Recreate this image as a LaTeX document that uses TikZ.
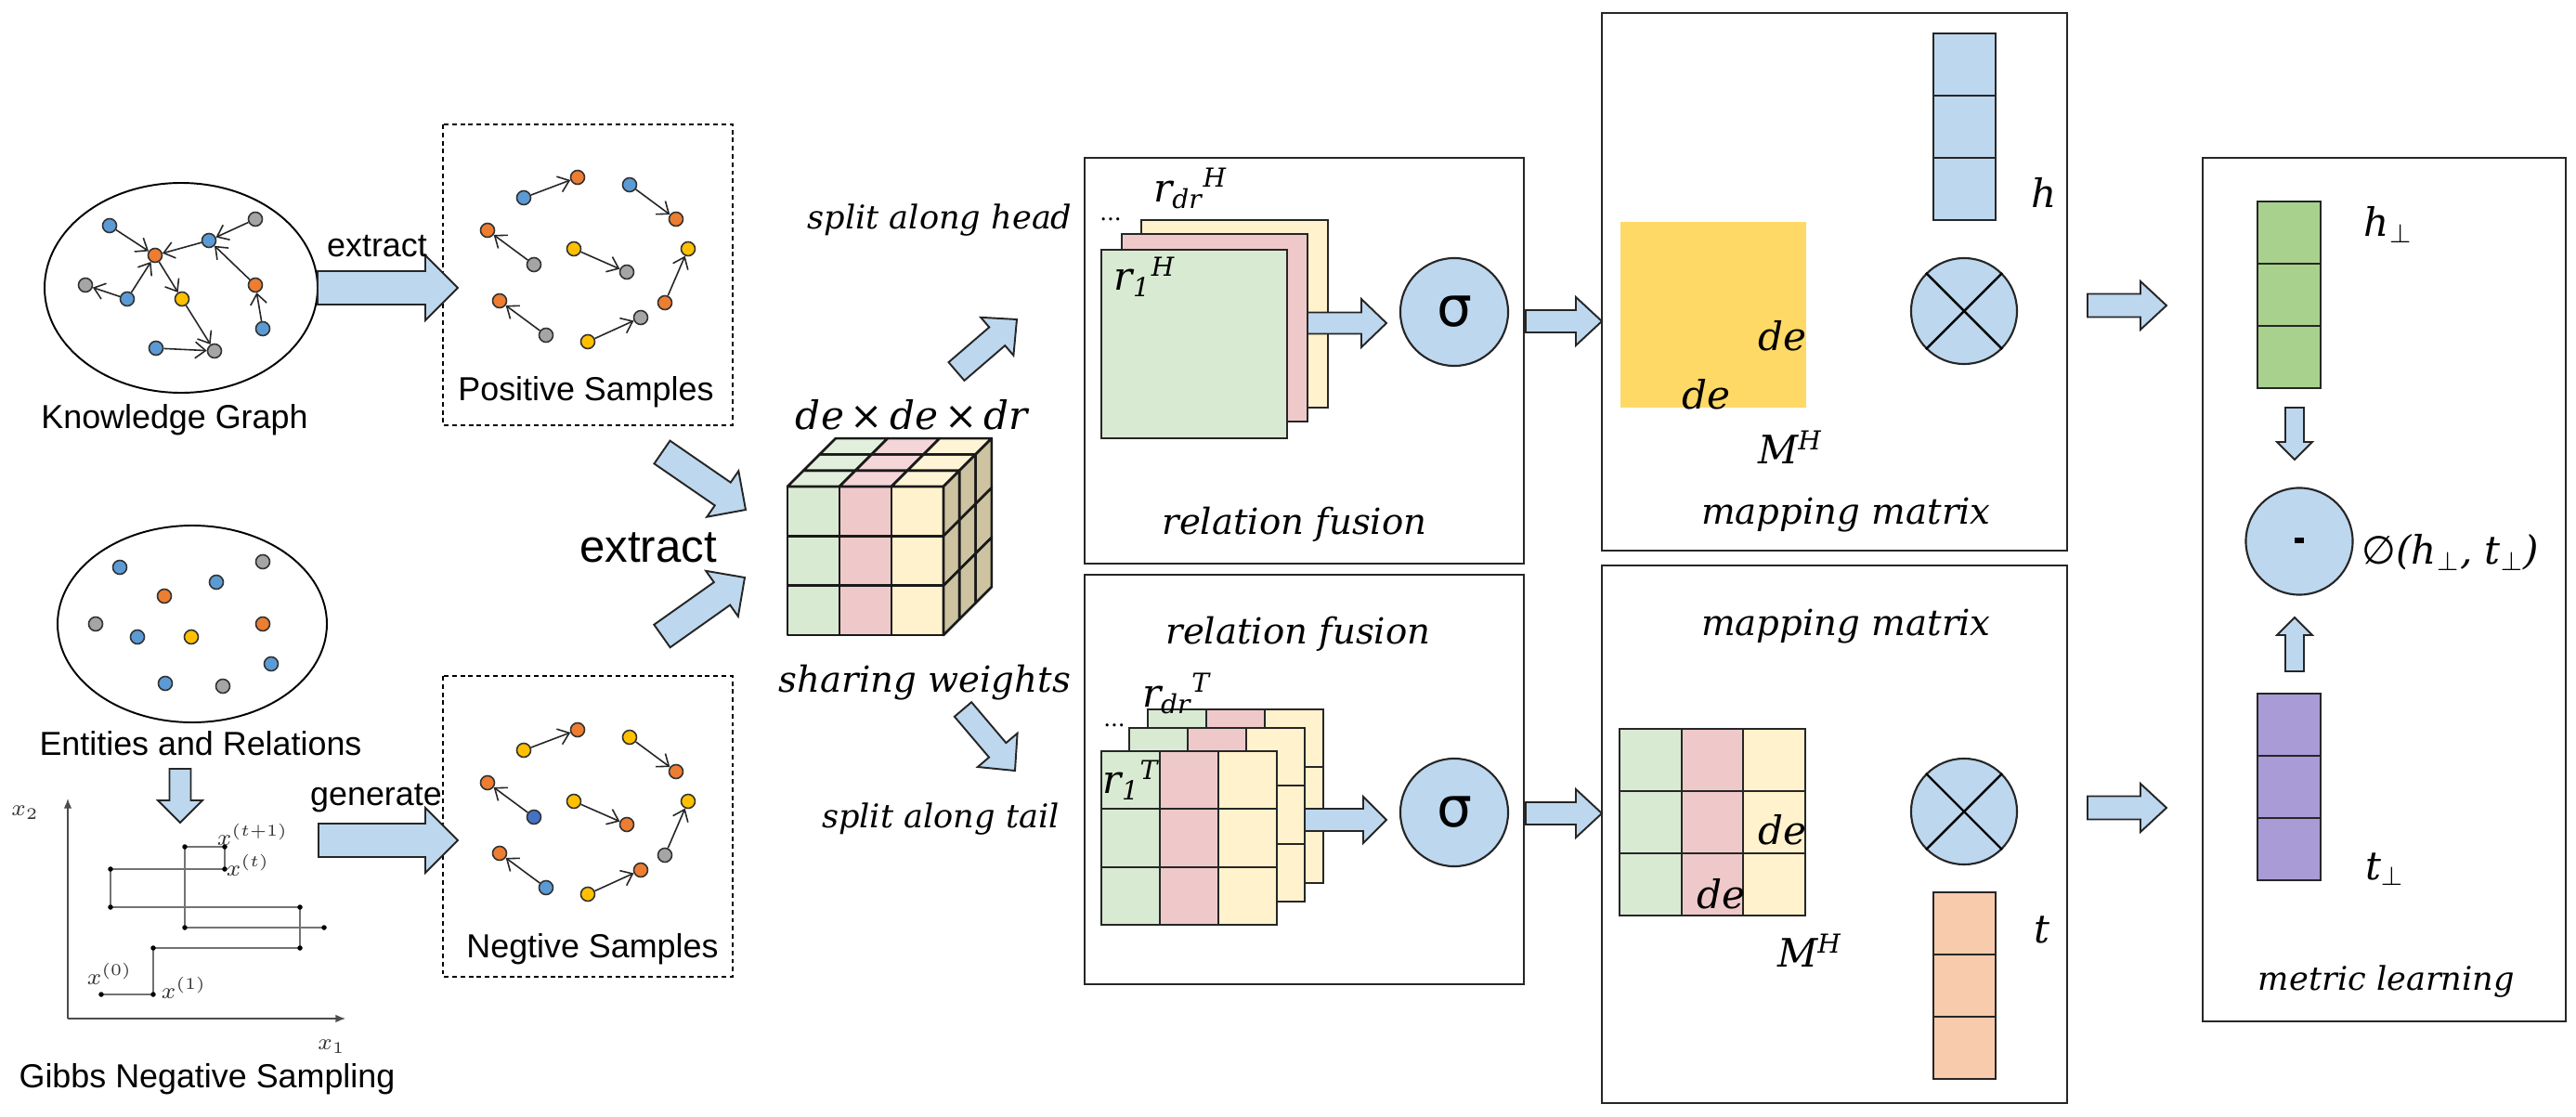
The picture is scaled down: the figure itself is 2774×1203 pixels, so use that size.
\documentclass[tikz,border=0pt]{standalone}
\usepackage{fontspec}
\usepackage{amsmath}
\usetikzlibrary{arrows.meta,calc}
\newfontfamily\sansf{Liberation Sans}
\newfontfamily\seriff{DejaVu Serif}
\newfontfamily\symf{DejaVu Sans}
\definecolor{cB}{HTML}{5B9BD5}
\definecolor{cD}{HTML}{4472C4}
\definecolor{cO}{HTML}{ED7D31}
\definecolor{cG}{HTML}{A5A5A5}
\definecolor{cY}{HTML}{FFC000}
\definecolor{arrfill}{HTML}{BDD7EE}
\definecolor{cgreen}{HTML}{D9EAD3}
\definecolor{cpink}{HTML}{EFC9C9}
\definecolor{cyel}{HTML}{FFF2CC}
\definecolor{cgreenT}{HTML}{E2EFDC}
\definecolor{cpinkT}{HTML}{F5D6D8}
\definecolor{cyelT}{HTML}{FFF4D6}
\definecolor{ctan}{HTML}{CDC3A1}
\definecolor{cgold}{HTML}{FFD966}
\definecolor{cpeach}{HTML}{F8CBAD}
\definecolor{cvgreen}{HTML}{A9D18E}
\definecolor{cpurple}{HTML}{A89BD6}
\tikzset{
  dot/.style={circle, draw=black!80, line width=0.45pt, minimum size=0.15cm, inner sep=0pt},
  kb/.style={dot, fill=cB}, ko/.style={dot, fill=cO}, kg/.style={dot, fill=cG},
  ky/.style={dot, fill=cY}, kd/.style={dot, fill=cD},
  edge/.style={-{Straight Barb[length=3.2pt,width=5pt]}, line width=0.45pt, black!85},
  fatarr/.style={fill=arrfill, draw=black!85, line width=0.55pt, line join=miter},
  panel/.style={draw=black!85, line width=0.7pt},
  dbox/.style={draw=black, line width=0.5pt, dash pattern=on 1.4pt off 1.1pt},
  cell/.style={draw=black!85, line width=0.55pt},
  cubel/.style={draw=black!90, line width=0.75pt, line join=round},
  ell/.style={draw=black, line width=0.55pt},
  sanslbl/.style={font=\sansf\fontsize{10.2}{12}\selectfont, inner sep=0pt},
  bigsans/.style={font=\sansf\fontsize{14}{16}\selectfont, inner sep=0pt},
  itlbl/.style={font=\seriff\itshape\fontsize{11}{13}\selectfont, inner sep=0pt},
  itsmall/.style={font=\seriff\itshape\fontsize{10}{12}\selectfont, inner sep=0pt},
  mlbl/.style={font=\seriff\itshape\fontsize{12}{14}\selectfont, inner sep=0pt},
  sig/.style={circle, draw=black!85, line width=0.6pt, fill=arrfill, minimum size=1.16cm, inner sep=0pt, font=\symf\fontsize{17}{17}\selectfont},
  otc/.style={circle, draw=black!85, line width=0.6pt, fill=arrfill, minimum size=1.14cm, inner sep=0pt},
  gline/.style={draw=black!55, line width=0.35pt},
  gpt/.style={circle, fill=black, minimum size=0.055cm, inner sep=0pt},
  glbl/.style={font=\fontsize{7.5}{8}\selectfont, inner sep=0pt, text=black!80},
}
\newcommand\fatarrow[6]{%
  \coordinate (#1t) at #2;
  \coordinate (#1p) at #3;
  \coordinate (#1h) at ($(#1p)!#6!(#1t)$);
  \draw[fatarr] ($(#1t)!#4!90:(#1p)$) -- ($(#1h)!#4!90:(#1p)$) -- ($(#1h)!#5!90:(#1p)$) -- (#1p) -- ($(#1h)!#5!-90:(#1p)$) -- ($(#1h)!#4!-90:(#1p)$) -- ($(#1t)!#4!-90:(#1p)$) -- cycle;}
\begin{document}
\begin{tikzpicture}[x=0.01cm,y=-0.01cm]
\useasboundingbox (0,0) rectangle (2774,1203);
\fill[white] (0,0) rectangle (2774,1203);

% ---------------- Knowledge graph
\draw[ell] (195,310) ellipse [x radius=147, y radius=113];
\node[kb] (k1) at (118,243) {};
\node[kg] (k2) at (275,236) {};
\node[kb] (k3) at (225,259) {};
\node[ko] (k4) at (167,275) {};
\node[kg] (k5) at (92,307) {};
\node[kb] (k6) at (137,322) {};
\node[ky] (k7) at (196,322) {};
\node[ko] (k8) at (275,307) {};
\node[kb] (k9) at (283,354) {};
\node[kb] (k10) at (168,375) {};
\node[kg] (k11) at (231,378) {};
\draw[edge] (k1) -- (k4);
\draw[edge] (k2) -- (k3);
\draw[edge] (k3) -- (k4);
\draw[edge] (k6) -- (k4);
\draw[edge] (k6) -- (k5);
\draw[edge] (k4) -- (k7);
\draw[edge] (k7) -- (k11);
\draw[edge] (k8) -- (k3);
\draw[edge] (k9) -- (k8);
\draw[edge] (k10) -- (k11);
\node[sanslbl] (kgl) at (188,452) {Knowledge Graph};

% ---------------- Positive samples
\draw[dbox] (477,134) rectangle (789,458);
\node[kb] (p1) at (564,213) {};
\node[ko] (p2) at (622,191) {};
\node[kb] (p3) at (678,199) {};
\node[ko] (p4) at (728,236) {};
\node[ko] (p5) at (525,248) {};
\node[kg] (p6) at (575,285) {};
\node[ky] (p7) at (618,268) {};
\node[kg] (p8) at (675,293) {};
\node[ky] (p9) at (741,268) {};
\node[ko] (p10) at (716,326) {};
\node[ko] (p11) at (538,324) {};
\node[kg] (p12) at (588,361) {};
\node[ky] (p13) at (633,368) {};
\node[kg] (p14) at (690,342) {};
\draw[edge] (p1) -- (p2);
\draw[edge] (p3) -- (p4);
\draw[edge] (p6) -- (p5);
\draw[edge] (p7) -- (p8);
\draw[edge] (p10) -- (p9);
\draw[edge] (p12) -- (p11);
\draw[edge] (p13) -- (p14);
\node[sanslbl] (psl) at (631,422) {Positive Samples};

% ---------------- Negative samples
\draw[dbox] (477,728) rectangle (789,1052);
\node[ky] (n1) at (564,808) {};
\node[ko] (n2) at (622,786) {};
\node[ky] (n3) at (678,794) {};
\node[ko] (n4) at (728,831) {};
\node[ko] (n5) at (525,843) {};
\node[kd] (n6) at (575,880) {};
\node[ky] (n7) at (618,863) {};
\node[ko] (n8) at (675,888) {};
\node[ky] (n9) at (741,863) {};
\node[kg] (n10) at (716,921) {};
\node[ko] (n11) at (538,919) {};
\node[kb] (n12) at (588,956) {};
\node[ky] (n13) at (633,963) {};
\node[ko] (n14) at (690,937) {};
\draw[edge] (n1) -- (n2);
\draw[edge] (n3) -- (n4);
\draw[edge] (n6) -- (n5);
\draw[edge] (n7) -- (n8);
\draw[edge] (n10) -- (n9);
\draw[edge] (n12) -- (n11);
\draw[edge] (n13) -- (n14);
\node[sanslbl] (nsl) at (638,1022) {Negtive Samples};

% ---------------- Entities and relations
\draw[ell] (207,672) ellipse [x radius=145, y radius=106];
\node[kb] (e1) at (129,611) {};
\node[kg] (e2) at (283,605) {};
\node[kb] (e3) at (233,627) {};
\node[ko] (e4) at (177,642) {};
\node[kg] (e5) at (103,672) {};
\node[ko] (e6) at (283,672) {};
\node[kb] (e7) at (148,686) {};
\node[ky] (e8) at (206,686) {};
\node[kb] (e9) at (292,715) {};
\node[kb] (e10) at (178,736) {};
\node[kg] (e11) at (240,739) {};
\node[sanslbl] (erl) at (216,801) {Entities and Relations};

% ---------------- Gibbs sampling plot
\draw[draw=black!70, line width=0.4pt, -{Latex[length=3pt,width=2.4pt]}] (73,1097) -- (73,860);
\draw[draw=black!70, line width=0.4pt, -{Latex[length=3pt,width=2.4pt]}] (73,1097) -- (372,1097);
\coordinate (g0) at (109,1071);
\coordinate (g1) at (165,1071);
\coordinate (g2) at (165,1021);
\coordinate (g3) at (323,1021);
\coordinate (g4) at (323,977);
\coordinate (g5) at (119,977);
\coordinate (g6) at (119,936);
\coordinate (g7) at (242,936);
\coordinate (g8) at (242,912);
\coordinate (g9) at (199,912);
\coordinate (g10) at (199,999);
\coordinate (g11) at (349,999);
\draw[gline] (g0) -- (g1) -- (g2) -- (g3) -- (g4) -- (g5) -- (g6) -- (g7) -- (g8) -- (g9) -- (g10) -- (g11);
\foreach \g in {g0,g1,g2,g3,g4,g5,g6,g7,g8,g9,g10,g11} \node[gpt] at (\g) {};
\node[glbl] (lx2) at (27,875) {$x_2$};
\node[glbl] (lx1) at (357,1127) {$x_1$};
\node[glbl] (lx0) at (118,1049) {$x^{(0)}$};
\node[glbl] (lxa) at (198,1064) {$x^{(1)}$};
\node[glbl] (lxt) at (267,932) {$x^{(t)}$};
\node[glbl] (lxt1) at (272,899) {$x^{(t+1)}$};
\node[sanslbl] (gns) at (223,1162) {Gibbs Negative Sampling};

% ---------------- left fat arrows and labels
\fatarrow{a1}{(342,310)}{(493,310)}{0.18cm}{0.35cm}{0.35cm}
\node[sanslbl] (ext1) at (406,265) {extract};
\fatarrow{a2}{(343,905)}{(493,905)}{0.18cm}{0.35cm}{0.35cm}
\node[sanslbl] (gen) at (405,860) {generate};
\fatarrow{a3}{(194,828)}{(194,886)}{0.115cm}{0.24cm}{0.24cm}
\fatarrow{a4}{(713,487)}{(803,549)}{0.15cm}{0.30cm}{0.30cm}
\fatarrow{a5}{(713,685)}{(802,622)}{0.15cm}{0.30cm}{0.30cm}
\node[bigsans] (ext2) at (698,590) {extract};

% ---------------- Cube
\def\cx{848}\def\cy{524}\def\cw{56}\def\ch{53.33}\def\dx{17.3}\def\dy{-17.3}
\foreach \c/\col in {0/cgreen,1/cpink,2/cyel} \foreach \r in {0,1,2}
  \draw[cubel, fill=\col] ({\cx+\c*\cw},{\cy+\r*\ch}) rectangle ++(\cw,\ch);
\foreach \c/\col in {0/cgreenT,1/cpinkT,2/cyelT} \foreach \k in {0,1,2}
  \draw[cubel, fill=\col] ({\cx+\c*\cw+\k*\dx},{\cy+\k*\dy}) -- ++(\cw,0) -- ++(\dx,\dy) -- ++(-\cw,0) -- cycle;
\foreach \r in {0,1,2} \foreach \k in {0,1,2}
  \draw[cubel, fill=ctan] ({\cx+3*\cw+\k*\dx},{\cy+\r*\ch+\k*\dy}) -- ++(\dx,\dy) -- ++(0,\ch) -- ++(-\dx,-\dy) -- cycle;
\node[mlbl] (dims) at (982,447) {de\,×\,de\,×\,dr};
\node[itlbl] (sw) at (996,735) {sharing weights};
\node[itsmall] (sah) at (1012,237) {split along head};
\node[itsmall] (sat) at (1013,882) {split along tail};
\fatarrow{a6}{(1030,400)}{(1095,344)}{0.13cm}{0.27cm}{0.28cm}
\fatarrow{a7}{(1037,764)}{(1093,830)}{0.12cm}{0.28cm}{0.29cm}

% ---------------- Relation fusion (head)
\draw[panel] (1168,170) rectangle (1641,607);
\draw[cell, fill=cyel] (1229,237) rectangle (1430,439);
\draw[cell, fill=cpink] (1208,252) rectangle (1408,454);
\draw[cell, fill=cgreen] (1186,269) rectangle (1386,472);
\node[font=\seriff\fontsize{7}{8}\selectfont, inner sep=0pt] (dd1) at (1196,236) {...};
\node[mlbl] (rdrh) at (1282,203) {r$_{\text{dr}}{}^{\text{H}}$};
\node[mlbl] (r1h) at (1233,298) {r$_{\text{1}}{}^{\text{H}}$};
\fatarrow{a8}{(1408,348)}{(1493,348)}{0.115cm}{0.26cm}{0.27cm}
\node[sig] (s1) at (1566,336) {σ};
\node[itlbl] (rf1) at (1394,565) {relation fusion};

% ---------------- Relation fusion (tail)
\draw[panel] (1168,619) rectangle (1641,1060);
\node[itlbl] (rf2) at (1398,683) {relation fusion};
\foreach \ox/\oy in {50/-45, 30/-25, 0/0} {
  \foreach \c/\col in {0/cgreen,1/cpink,2/cyel} \foreach \r in {0,1,2}
    \draw[cell, fill=\col] ({1186+\ox+\c*63},{809+\oy+\r*62.33}) rectangle ++(63,62.33);
}
\node[font=\seriff\fontsize{7}{8}\selectfont, inner sep=0pt] (dd2) at (1200,781) {...};
\node[mlbl] (rdrt) at (1267,747) {r$_{\text{dr}}{}^{\text{T}}$};
\node[mlbl] (r1t) at (1218,840) {r$_{\text{1}}{}^{\text{T}}$};
\fatarrow{a9}{(1405,883)}{(1493,883)}{0.12cm}{0.25cm}{0.25cm}
\node[sig] (s2) at (1566,875) {σ};

% ---------------- Mapping matrix (head)
\draw[panel] (1725,14) rectangle (2226,593);
\fill[cgold] (1745,239) rectangle (1945,439);
\node[mlbl] (de1) at (1919,362) {de};
\node[mlbl] (de2) at (1837,425) {de};
\node[mlbl] (mh1) at (1928,482) {M$^{\text{H}}$};
\foreach \i in {0,1,2} \draw[cell, fill=arrfill] (2082,{36+\i*67}) rectangle ++(67,67);
\node[mlbl] (hl) at (2201,207) {h};
\node[otc] (o1) at (2115,335) {};
\draw[line width=0.7pt] (o1.45) -- (o1.-135);
\draw[line width=0.7pt] (o1.135) -- (o1.-45);
\node[itlbl] (mm1) at (1988,555) {mapping matrix};

% ---------------- Mapping matrix (tail)
\draw[panel] (1725,609) rectangle (2226,1188);
\node[itlbl] (mm2) at (1988,675) {mapping matrix};
\foreach \c/\col in {0/cgreen,1/cpink,2/cyel} \foreach \r in {0,1,2}
  \draw[cell, fill=\col] ({1744+\c*66.7},{785+\r*67}) rectangle ++(66.7,67);
\node[mlbl] (de3) at (1919,894) {de};
\node[mlbl] (de4) at (1853,963) {de};
\node[mlbl] (mh2) at (1949,1024) {M$^{\text{H}}$};
\node[otc] (o2) at (2115,874) {};
\draw[line width=0.7pt] (o2.45) -- (o2.-135);
\draw[line width=0.7pt] (o2.135) -- (o2.-45);
\foreach \i in {0,1,2} \draw[cell, fill=cpeach] (2082,{961+\i*67}) rectangle ++(67,67);
\node[mlbl] (tl) at (2199,1001) {t};

\fatarrow{a10}{(1643,346)}{(1725,346)}{0.12cm}{0.26cm}{0.28cm}
\fatarrow{a11}{(1643,876)}{(1725,876)}{0.12cm}{0.26cm}{0.28cm}

% ---------------- Metric learning
\draw[panel] (2372,170) rectangle (2763,1100);
\foreach \i in {0,1,2} \draw[cell, fill=cvgreen] (2431,{217+\i*67}) rectangle ++(68,67);
\foreach \i in {0,1,2} \draw[cell, fill=cpurple] (2431,{747+\i*67}) rectangle ++(68,67);
\node[mlbl] (hp) at (2572,242) {h$_{\perp}$};
\node[mlbl] (tp) at (2568,936) {t$_{\perp}$};
\fatarrow{a14}{(2471,439)}{(2471,495)}{0.10cm}{0.19cm}{0.19cm}
\fatarrow{a15}{(2471,723)}{(2471,665)}{0.10cm}{0.19cm}{0.19cm}
\node[otc, minimum size=1.15cm] (mc) at (2476,583) {};
\fill[black] (2471,579) rectangle (2481,585);
\node[mlbl] (phi) at (2639,595) {{\symf\upshape ∅}(h$_{\perp}$, t$_{\perp}$)};
\node[itsmall] (ml) at (2570,1057) {metric learning};
\fatarrow{a12}{(2248,329)}{(2333,329)}{0.125cm}{0.26cm}{0.28cm}
\fatarrow{a13}{(2248,870)}{(2333,870)}{0.125cm}{0.26cm}{0.28cm}
\end{tikzpicture}
\end{document}
